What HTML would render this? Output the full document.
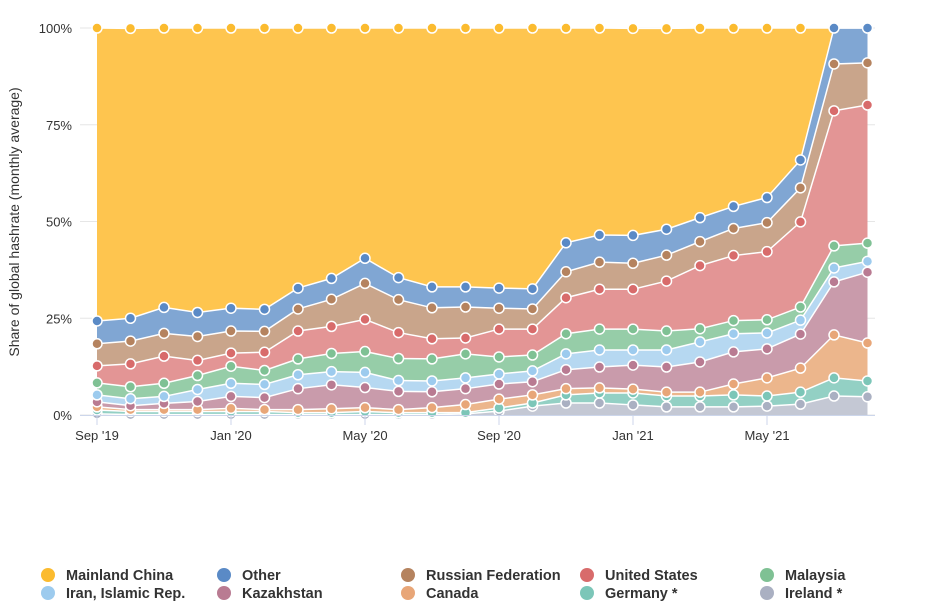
<!DOCTYPE html>
<html><head><meta charset="utf-8"><style>
body{margin:0;background:#fff;font-family:"Liberation Sans",sans-serif}
svg{display:block}
</style></head><body>
<svg id="chart" width="934" height="614"></svg>
<script>
const months=["Sep '19","Oct","Nov","Dec","Jan '20","Feb","Mar","Apr","May '20","Jun","Jul","Aug","Sep '20","Oct","Nov","Dec","Jan '21","Feb","Mar","Apr","May '21","Jun","Jul","Aug"];
const xTickLabels=["Sep '19","Jan '20","May '20","Sep '20","Jan '21","May '21"];
const xTickIdx=[0,4,8,12,16,20];
const yTicks=[0,25,50,75,100];
const seriesNames=["Ireland *","Germany *","Canada","Kazakhstan","Iran, Islamic Rep.","Malaysia","United States","Russian Federation","Other","Mainland China"];
const ireland=[0.3,0.1,0.1,0.1,0.1,0.1,0.1,0.1,0.1,0.1,0.1,0.3,1.0,2.3,3.1,3.1,2.6,2.1,2.1,2.1,2.3,2.8,4.9,4.7];
const germany=[1.0,0.8,0.8,0.8,0.8,0.8,0.5,0.5,0.8,0.5,0.5,0.3,0.8,0.8,2.1,2.6,3.1,2.8,2.8,3.1,2.6,3.1,4.7,4.1];
const canada=[0.8,0.5,0.5,0.5,0.8,0.5,0.8,1.0,1.0,0.8,1.3,2.1,2.3,2.1,1.6,1.3,1.0,1.0,1.0,2.8,4.7,6.2,11.1,9.8];
const kazakhstan=[1.3,1.0,1.6,2.1,3.1,3.1,5.4,6.2,5.2,4.7,4.1,4.1,3.9,3.4,4.9,5.4,6.2,6.5,7.8,8.3,7.5,8.8,13.7,18.3];
const iran=[1.8,1.8,1.8,3.1,3.4,3.4,3.6,3.4,3.9,2.8,2.8,2.8,2.6,2.8,4.1,4.4,3.9,4.4,5.2,4.7,4.1,3.6,3.6,2.8];
const malaysia=[3.1,3.1,3.4,3.6,4.4,3.6,4.1,4.7,5.4,5.7,5.7,6.2,4.4,4.1,5.2,5.4,5.4,4.9,3.4,3.4,3.4,3.4,5.7,4.7];
const unitedStates=[4.4,5.9,7.0,3.9,3.4,4.7,7.2,7.0,8.3,6.7,5.2,4.1,7.2,6.7,9.3,10.3,10.3,12.9,16.3,16.8,17.6,22.0,34.9,35.7];
const russia=[5.7,5.9,5.9,6.2,5.7,5.4,5.7,7.0,9.3,8.5,8.0,8.0,5.4,5.2,6.7,7.0,6.7,6.7,6.2,7.0,7.5,8.8,12.1,10.9];
const other=[5.9,5.9,6.7,6.2,5.9,5.7,5.4,5.4,6.5,5.7,5.4,5.2,5.2,5.2,7.5,7.0,7.2,6.7,6.2,5.7,6.5,7.2,9.3,9.0];
const china=[75.7,74.9,72.4,73.6,72.6,72.9,67.2,64.9,59.7,64.6,66.9,66.9,67.2,67.4,55.6,53.5,53.5,51.9,49.1,46.3,43.9,34.1,0,0];

const series=[ireland,germany,canada,kazakhstan,iran,malaysia,unitedStates,russia,other,china];
const fills=["#c4c8d4","#93d0c4","#ecb68c","#c99bab","#b6d8f1","#96cda8","#e39595","#c9a58b","#80a6d3","#fec54f"];
const dots=["#aab0c2","#7cc6b8","#e8a678","#b97b92","#9dcbee","#7fc194","#d86b6b","#b5835f","#5a8ac6","#fbbb2f"];
const NS="http://www.w3.org/2000/svg";
const svg=document.getElementById('chart');
const X0=97,XS=33.5,Y0=415,Y1=28;
const xs=i=>X0+i*XS;
const ys=v=>Y0-(Math.min(v,100))/100*(Y0-Y1);
function mk(t,a,p){const e=document.createElementNS(NS,t);for(const k in a)e.setAttribute(k,a[k]);(p||svg).appendChild(e);return e;}
yTicks.forEach(t=>{
  const l=mk('line',{x1:80,x2:875,y1:ys(t),y2:ys(t),stroke:'#e6e6e6','stroke-width':1});
  
  
  const tx=mk('text',{x:72,y:ys(t)+5,'text-anchor':'end','font-size':13,fill:'#333'});
  tx.textContent=t+'%';
  
  
});
const cum=[];let base=months.map(()=>0);
series.forEach((s,k)=>{const top=s.map((v,i)=>base[i]+v);cum.push({lo:base,hi:top});base=top;});
cum.forEach((c,k)=>{
  let d='M'+c.hi.map((v,i)=>xs(i)+','+ys(v)).join('L');
  for(let i=months.length-1;i>=0;i--)d+='L'+xs(i)+','+ys(c.lo[i]);
  const p=mk('path',{d:d+'Z',fill:fills[k]});
  
  
});
cum.forEach((c,k)=>{
  const l=mk('polyline',{points:c.hi.map((v,i)=>xs(i)+','+ys(v)).join(' '),fill:'none',stroke:'#fff','stroke-width':1.5});
  
  
});
cum.forEach((c,k)=>{
  c.hi.forEach((v,i)=>{
    if(k===9 && series[k][i]===0) return;
    const m=mk('circle',{cx:xs(i),cy:ys(v),r:5,fill:dots[k],stroke:'#fff','stroke-width':1.5});
    
    
  });
});
mk('line',{x1:80,x2:875,y1:415.5,y2:415.5,stroke:'#ccd6eb'});
xTickIdx.forEach((i,j)=>{
  mk('line',{x1:xs(i),x2:xs(i),y1:415,y2:425,stroke:'#ccd6eb'});
  const t=mk('text',{x:xs(i),y:440,'text-anchor':'middle','font-size':13,fill:'#333'});
  t.textContent=xTickLabels[j];
  
  
});
const yt=mk('text',{transform:'translate(19,222) rotate(-90)','text-anchor':'middle','font-size':14,fill:'#333'});
yt.textContent='Share of global hashrate (monthly average)';


const legOrder=[9,8,7,6,5,4,3,2,1,0];
const legX=[48,224,408,587,767];
legOrder.forEach((k,j)=>{
  const g=mk('g',{});
  
  
  const x=legX[j%5],y=j<5?575:593;
  mk('circle',{cx:x,cy:y,r:7,fill:dots[k]},g);
  const t=mk('text',{x:x+18,y:y+5,'font-size':14.5,'font-weight':'bold',fill:'#333'},g);
  t.textContent=seriesNames[k];
});
</script>
</body></html>
